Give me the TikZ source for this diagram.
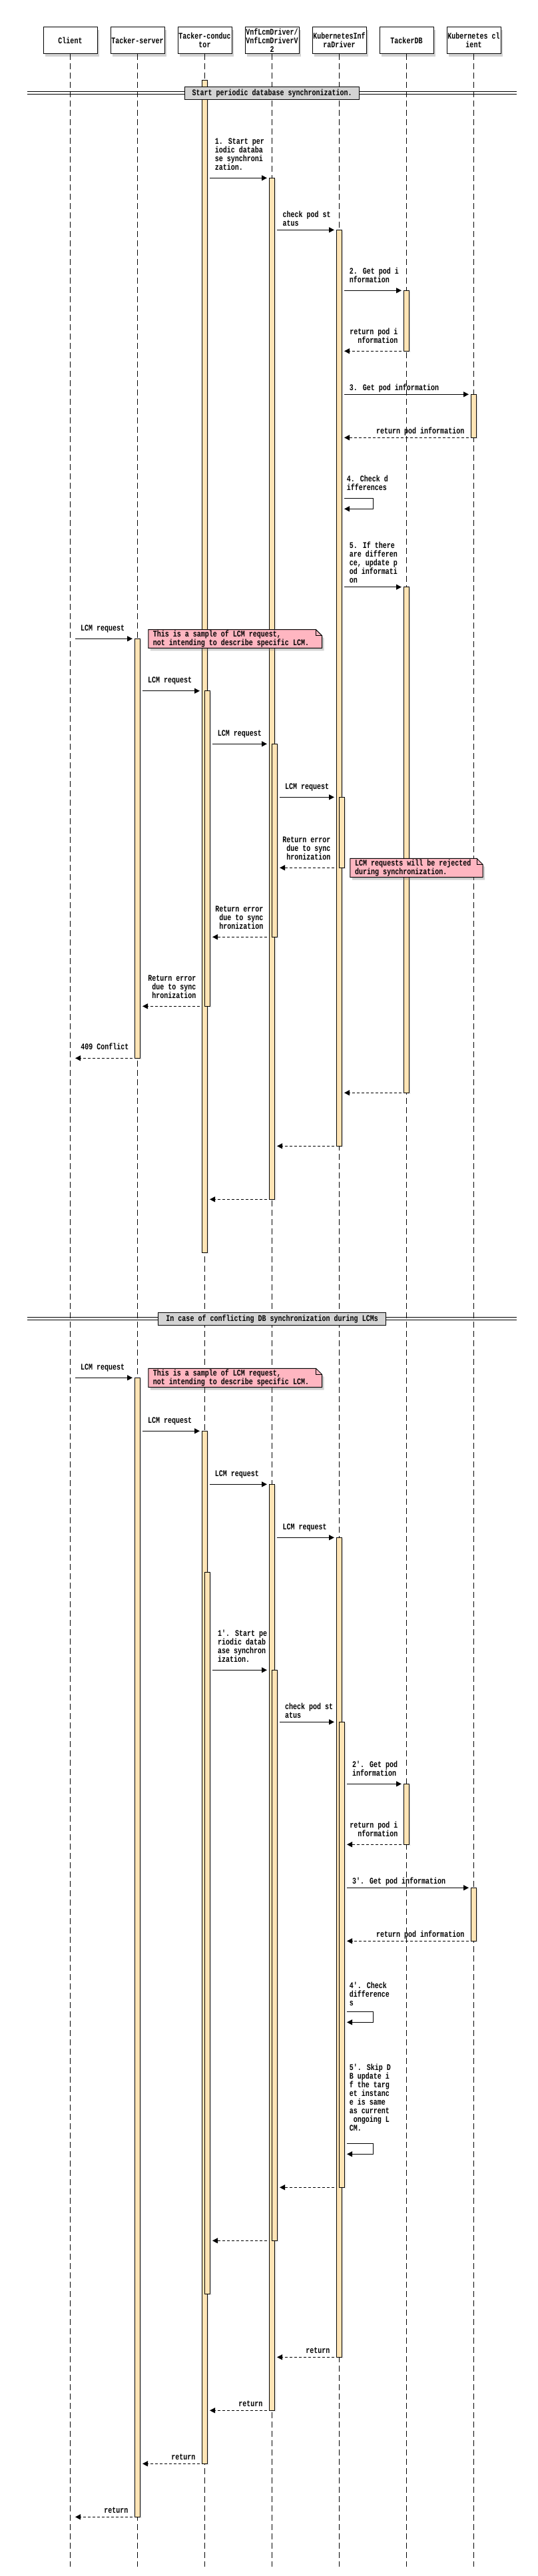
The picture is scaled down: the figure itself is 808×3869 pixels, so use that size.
\documentclass[tikz,border=0pt]{standalone}
\usepackage{fontspec}
\newfontfamily\dgfont[FakeStretch=0.77]{Liberation Mono}
\usetikzlibrary{arrows.meta,shadows}
\definecolor{actfill}{HTML}{FFE4B5}
\definecolor{notefill}{HTML}{FFB6C1}
\definecolor{sepfill}{HTML}{D3D3D3}
\tikzset{
 every node/.style={font=\dgfont\bfseries\fontsize{13}{13}\selectfont},
 actor/.style={draw,fill=white,line width=1pt,minimum width=81pt,minimum height=40pt,inner sep=0pt,align=center,
   drop shadow={shadow xshift=3pt,shadow yshift=-4pt,opacity=0.35}},
 life/.style={line width=1pt,dash pattern=on 9pt off 5pt},
 act/.style={draw,fill=actfill,line width=1pt,drop shadow={shadow xshift=2pt,shadow yshift=-2pt,opacity=0.12}},
 msg/.style={line width=1pt,-{Triangle[length=8pt,width=8pt]}},
 ret/.style={msg,dash pattern=on 4pt off 3pt},
 lbl/.style={inner sep=0pt,align=left},
 rlbl/.style={inner sep=0pt,align=right},
 notestyle/.style={draw,fill=notefill,line width=1pt,drop shadow={shadow xshift=3pt,shadow yshift=-4pt,opacity=0.35}},
 sepbox/.style={draw,fill=sepfill,line width=1pt,inner sep=0pt,minimum height=19pt},
 sepline/.style={line width=1pt},
}
\newcommand\msgarr[5]{\coordinate (#1a) at (#3,#2); \coordinate (#1b) at (#4,#2); \draw[#5] (#1a) -- (#1b);}
\newcommand\selfarr[4]{\coordinate (#1a) at (#2,#3); \coordinate (#1b) at (#2,#4); \draw[msg] (#1a) -- (560.1,#3) -- (560.1,#4) -- (#1b);}
\newcommand\lab[4]{\node[lbl,anchor=south west] (#1) at (#2,{#3+7.4}) {#4\strut};}
\newcommand\rlab[4]{\node[rlbl,anchor=south east] (#1) at (#2,{#3+7.4}) {#4\strut};}
\begin{document}
\begin{tikzpicture}[x=1pt,y=-1pt]
\fill[white] (0,0) rectangle (808,3869);
\useasboundingbox (0,0) rectangle (808,3869);
% actors
\node[actor] (client) at (105.5,60.5) {Client};
\node[actor] (server) at (206.5,60.5) {Tacker-server};
\node[actor] (cond) at (307.5,60.5) {Tacker-conduc\\tor};
\node[actor] (vnf) at (408.5,60.5) {VnfLcmDriver/\\VnfLcmDriverV\\2};
\node[actor] (kube) at (509.5,60.5) {KubernetesInf\\raDriver};
\node[actor] (db) at (610.5,60.5) {TackerDB};
\node[actor] (kcli) at (711.5,60.5) {Kubernetes cl\\ient};
\foreach \n/\x in {client/105.5,server/206.5,cond/307.5,vnf/408.5,kube/509.5,db/610.5,kcli/711.5}{
  \coordinate (\n End) at (\x,3855);
  \draw[life] (\n.south) -- (\n End);
}
% activation bars, section 1
\draw[act] (303.5,120.7) rectangle (311.5,1881);
\draw[act] (404.5,267.3) rectangle (412.5,1801.3);
\draw[act] (505.5,345.3) rectangle (513.5,1721.3);
\draw[act] (606.5,436.3) rectangle (614.5,527.3);
\draw[act] (707.5,592.3) rectangle (715.5,657.3);
\draw[act] (606.5,881.7) rectangle (614.5,1641.3);
\draw[act] (202.5,959.3) rectangle (210.5,1589.3);
\draw[act] (307.5,1037.7) rectangle (315.5,1511.3);
\draw[act] (408.5,1117.3) rectangle (416.5,1407.3);
\draw[act] (509.5,1197.3) rectangle (517.5,1303.3);
% activation bars, section 2
\draw[act] (202.5,2069.3) rectangle (210.5,3780.3);
\draw[act] (303.5,2149.3) rectangle (311.5,3700.3);
\draw[act] (404.5,2229.3) rectangle (412.5,3620.3);
\draw[act] (505.5,2309.3) rectangle (513.5,3540.3);
\draw[act] (307.5,2361.3) rectangle (315.5,3445.3);
\draw[act] (408.5,2508.3) rectangle (416.5,3365.3);
\draw[act] (509.5,2586.3) rectangle (517.5,3285.3);
\draw[act] (606.5,2679.3) rectangle (614.5,2770.3);
\draw[act] (707.5,2835.3) rectangle (715.5,2915.3);
% section 1 messages
\msgarr{m1}{267.3}{315}{401}{msg}
\lab{l1}{322.7}{251.7}{1. Start per\\iodic databa\\se synchroni\\zation.}
\msgarr{m2}{345.3}{416}{502}{msg}
\lab{l2}{424.3}{335.7}{check pod st\\atus}
\msgarr{m3}{436.3}{517}{603}{msg}
\lab{l3}{524.7}{420.7}{2. Get pod i\\nformation}
\msgarr{m4}{527.3}{603}{517}{ret}
\rlab{l4}{597.6}{511.7}{return pod i\\nformation}
\msgarr{m5}{592.3}{517}{704}{msg}
\lab{l5}{524.7}{582.7}{3. Get pod information}
\msgarr{m6}{657.3}{704}{517}{ret}
\rlab{l6}{697.5}{647.7}{return pod information}
\selfarr{m7}{517}{748.3}{764.3}
\lab{l7}{520.6}{732.7}{4. Check d\\ifferences}
\msgarr{m8}{881.7}{517}{603}{msg}
\lab{l8}{524.7}{871.7}{5. If there\\are differen\\ce, update p\\od informati\\on}
\msgarr{m9}{959.3}{113}{199}{msg}
\lab{l9}{120.8}{943.7}{LCM request}
\msgarr{m10}{1037.7}{214}{300}{msg}
\lab{l10}{221.8}{1022}{LCM request}
\msgarr{m11}{1117.3}{319}{401}{msg}
\lab{l11}{326.7}{1101.7}{LCM request}
\msgarr{m12}{1197.3}{420}{502}{msg}
\lab{l12}{427.9}{1182}{LCM request}
\msgarr{m13}{1303.3}{502}{420}{ret}
\rlab{l13}{496.6}{1287.7}{Return error\\due to sync\\hronization}
\msgarr{m14}{1407.3}{401}{319}{ret}
\rlab{l14}{395.6}{1391.7}{Return error\\due to sync\\hronization}
\msgarr{m15}{1511.3}{300}{214}{ret}
\rlab{l15}{294.6}{1495.7}{Return error\\due to sync\\hronization}
\msgarr{m16}{1589.3}{199}{113}{ret}
\rlab{l16}{193.6}{1573.3}{409 Conflict}
\msgarr{m17}{1641.3}{603}{517}{ret}
\msgarr{m18}{1721.3}{502}{416}{ret}
\msgarr{m19}{1801.3}{401}{315}{ret}
% section 2 messages
\msgarr{m20}{2069.3}{113}{199}{msg}
\lab{l20}{120.8}{2053.7}{LCM request}
\msgarr{m21}{2149.3}{214}{300}{msg}
\lab{l21}{221.8}{2133.7}{LCM request}
\msgarr{m22}{2229.3}{315}{401}{msg}
\lab{l22}{322.7}{2213.7}{LCM request}
\msgarr{m23}{2309.3}{416}{502}{msg}
\lab{l23}{424.3}{2293.7}{LCM request}
\msgarr{m24}{2508.3}{319}{401}{msg}
\lab{l24}{326.9}{2492.7}{1'. Start pe\\riodic datab\\ase synchron\\ization.}
\msgarr{m25}{2586.3}{420}{502}{msg}
\lab{l25}{427.9}{2576.7}{check pod st\\atus}
\msgarr{m26}{2679.3}{521}{603}{msg}
\lab{l26}{528.9}{2663.7}{2'. Get pod\\information}
\msgarr{m27}{2770.3}{603}{521}{ret}
\rlab{l27}{597.6}{2754.7}{return pod i\\nformation}
\msgarr{m28}{2835.3}{521}{704}{msg}
\lab{l28}{528.9}{2825.7}{3'. Get pod information}
\msgarr{m29}{2915.3}{704}{521}{ret}
\rlab{l29}{697.5}{2905.7}{return pod information}
\selfarr{m30}{521}{3021.3}{3037.3}
\lab{l30}{524.7}{3009}{4'. Check\\difference\\s}
\selfarr{m31}{521}{3219.3}{3235.3}
\lab{l31}{524.7}{3196.7}{5'. Skip D\\B update i\\f the targ\\et instanc\\e is same\\as current\\~ongoing L\\CM.}
\msgarr{m32}{3285.3}{502}{420}{ret}
\msgarr{m33}{3365.3}{401}{319}{ret}
\msgarr{m34}{3540.3}{502}{416}{ret}
\rlab{l34}{495.6}{3530.7}{return}
\msgarr{m35}{3620.3}{401}{315}{ret}
\rlab{l35}{394.6}{3610.7}{return}
\msgarr{m36}{3700.3}{300}{214}{ret}
\rlab{l36}{293.6}{3690.7}{return}
\msgarr{m37}{3780.3}{199}{113}{ret}
\rlab{l37}{192.6}{3770.7}{return}
% notes
\draw[notestyle] (222.8,945.7) -- (474.6,945.7) -- (483.6,954.7) -- (483.6,973.3) -- (222.8,973.3) -- cycle;
\draw[line width=0.8pt] (474.6,945.7) -- (474.6,954.7) -- (483.6,954.7);
\node[lbl,anchor=west] (n1) at (229.6,959.3) {This is a sample of LCM request,\\not intending to describe specific LCM.};
\draw[notestyle] (525.8,1289.3) -- (716.1,1289.3) -- (725.1,1298.3) -- (725.1,1317.7) -- (525.8,1317.7) -- cycle;
\draw[line width=0.8pt] (716.1,1289.3) -- (716.1,1298.3) -- (725.1,1298.3);
\node[lbl,anchor=west] (n2) at (533,1303.3) {LCM requests will be rejected\\during synchronization.};
\draw[notestyle] (222.8,2055.3) -- (474.6,2055.3) -- (483.6,2064.3) -- (483.6,2083.7) -- (222.8,2083.7) -- cycle;
\draw[line width=0.8pt] (474.6,2055.3) -- (474.6,2064.3) -- (483.6,2064.3);
\node[lbl,anchor=west] (n3) at (229.6,2069.3) {This is a sample of LCM request,\\not intending to describe specific LCM.};
% separators
\draw[sepline] (40.6,137.5) -- (776.2,137.5);
\draw[sepline] (40.6,141.5) -- (776.2,141.5);
\node[sepbox,minimum width=262.3pt] (sep1) at (408.65,139.8) {Start periodic database synchronization.};
\draw[sepline] (40.6,1978.5) -- (776.2,1978.5);
\draw[sepline] (40.6,1982.5) -- (776.2,1982.5);
\node[sepbox,minimum width=341.5pt] (sep2) at (408.65,1980.8) {In case of conflicting DB synchronization during LCMs};
\end{tikzpicture}
\end{document}
